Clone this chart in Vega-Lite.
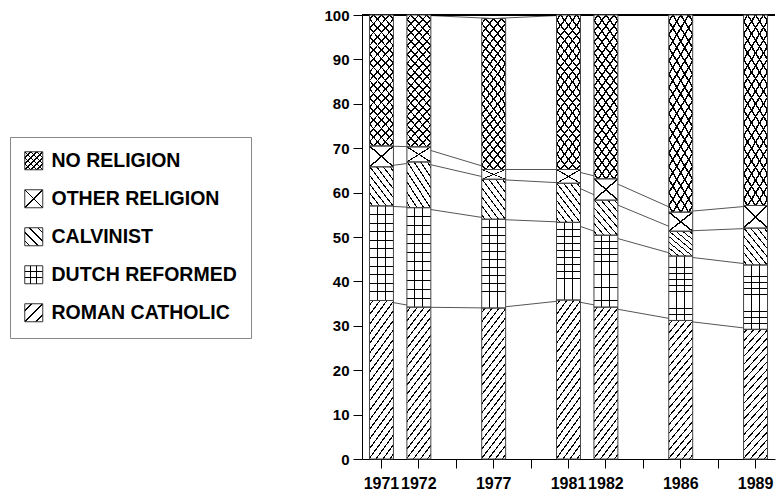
{
"$schema": "https://vega.github.io/schema/vega-lite/v6.json",
"width": 413,
"height": 444,
"autosize": {"type": "none"},
"padding": {"left": 362, "top": 15, "right": 1, "bottom": 37},
"background": "white",
"config": {
  "font": "Liberation Sans",
  "view": {"stroke": null},
  "axis": {"title": null, "grid": false, "domainColor": "#000", "tickColor": "#000", "labelColor": "#000", "labelFont": "Liberation Sans", "labelFontWeight": "bold", "tickSize": 9, "domainWidth": 1, "tickWidth": 1},
  "axisX": {"labelFontSize": 16, "labelPadding": 7, "labelAngle": 0, "labelOverlap": false},
  "axisY": {"labelFontSize": 15, "labelPadding": 4}
},
"data": {"values": [
  {"year": "1971", "cat": "ROMAN CATHOLIC", "k": 1, "v": 35.7},
  {"year": "1971", "cat": "DUTCH REFORMED", "k": 2, "v": 21.3},
  {"year": "1971", "cat": "CALVINIST", "k": 3, "v": 8.8},
  {"year": "1971", "cat": "OTHER RELIGION", "k": 4, "v": 4.7},
  {"year": "1971", "cat": "NO RELIGION", "k": 5, "v": 29.5},
  {"year": "1972", "cat": "ROMAN CATHOLIC", "k": 1, "v": 34.2},
  {"year": "1972", "cat": "DUTCH REFORMED", "k": 2, "v": 22.4},
  {"year": "1972", "cat": "CALVINIST", "k": 3, "v": 10.3},
  {"year": "1972", "cat": "OTHER RELIGION", "k": 4, "v": 3.4},
  {"year": "1972", "cat": "NO RELIGION", "k": 5, "v": 29.7},
  {"year": "1977", "cat": "ROMAN CATHOLIC", "k": 1, "v": 34.0},
  {"year": "1977", "cat": "DUTCH REFORMED", "k": 2, "v": 20.0},
  {"year": "1977", "cat": "CALVINIST", "k": 3, "v": 9.0},
  {"year": "1977", "cat": "OTHER RELIGION", "k": 4, "v": 2.2},
  {"year": "1977", "cat": "NO RELIGION", "k": 5, "v": 34.0},
  {"year": "1981", "cat": "ROMAN CATHOLIC", "k": 1, "v": 35.8},
  {"year": "1981", "cat": "DUTCH REFORMED", "k": 2, "v": 17.5},
  {"year": "1981", "cat": "CALVINIST", "k": 3, "v": 8.8},
  {"year": "1981", "cat": "OTHER RELIGION", "k": 4, "v": 3.1},
  {"year": "1981", "cat": "NO RELIGION", "k": 5, "v": 34.8},
  {"year": "1982", "cat": "ROMAN CATHOLIC", "k": 1, "v": 34.2},
  {"year": "1982", "cat": "DUTCH REFORMED", "k": 2, "v": 16.2},
  {"year": "1982", "cat": "CALVINIST", "k": 3, "v": 7.9},
  {"year": "1982", "cat": "OTHER RELIGION", "k": 4, "v": 4.8},
  {"year": "1982", "cat": "NO RELIGION", "k": 5, "v": 36.9},
  {"year": "1986", "cat": "ROMAN CATHOLIC", "k": 1, "v": 31.2},
  {"year": "1986", "cat": "DUTCH REFORMED", "k": 2, "v": 14.5},
  {"year": "1986", "cat": "CALVINIST", "k": 3, "v": 5.6},
  {"year": "1986", "cat": "OTHER RELIGION", "k": 4, "v": 4.3},
  {"year": "1986", "cat": "NO RELIGION", "k": 5, "v": 44.4},
  {"year": "1989", "cat": "ROMAN CATHOLIC", "k": 1, "v": 29.2},
  {"year": "1989", "cat": "DUTCH REFORMED", "k": 2, "v": 14.5},
  {"year": "1989", "cat": "CALVINIST", "k": 3, "v": 8.3},
  {"year": "1989", "cat": "OTHER RELIGION", "k": 4, "v": 5.1},
  {"year": "1989", "cat": "NO RELIGION", "k": 5, "v": 42.9}
]},
"transform": [{"stack": "v", "groupby": ["year"], "sort": [{"field": "k", "order": "ascending"}], "as": ["v0", "v1"]}],
"layer": [
  {
    "mark": {"type": "line", "color": "#555", "strokeWidth": 1},
    "encoding": {
      "x": {"field": "year", "type": "nominal", "scale": {"domain": ["1971", "1972", "a", "1977", "b", "1981", "1982", "c", "1986", "d", "1989"], "paddingInner": 0.36, "paddingOuter": 0.2}, "axis": {"labelExpr": "length(datum.label) == 4 ? datum.label : ''"}},
      "y": {"field": "v1", "type": "quantitative", "scale": {"domain": [0, 100], "nice": false}, "axis": {"values": [0, 10, 20, 30, 40, 50, 60, 70, 80, 90, 100]}},
      "detail": {"field": "cat"}
    }
  },
  {
    "mark": {"type": "rule", "color": "#000", "strokeWidth": 1},
    "encoding": {"y": {"datum": 100}}
  },
  {
    "mark": {"type": "bar"},
    "encoding": {
      "x": {"field": "year", "type": "nominal", "scale": {"domain": ["1971", "1972", "a", "1977", "b", "1981", "1982", "c", "1986", "d", "1989"], "paddingInner": 0.36, "paddingOuter": 0.2}, "axis": {"labelExpr": "length(datum.label) == 4 ? datum.label : ''"}},
      "y": {"field": "v0", "type": "quantitative", "scale": {"domain": [0, 100], "nice": false}},
      "y2": {"field": "v1"},
      "fill": {"field": "cat", "type": "nominal", "legend": null, "scale": {"domain": ["NO RELIGION", "OTHER RELIGION", "CALVINIST", "DUTCH REFORMED", "ROMAN CATHOLIC"], "range": [
        {"expr": "{gradient:'linear',x1:0,y1:0,x2:0.2324,y2:1.1546,stops:[{offset:0,color:'#fff'},{offset:0.0218,color:'#fff'},{offset:0.0218,color:'#000'},{offset:0.0338,color:'#000'},{offset:0.0338,color:'#fff'},{offset:0.0773,color:'#fff'},{offset:0.0773,color:'#000'},{offset:0.0893,color:'#000'},{offset:0.0893,color:'#fff'},{offset:0.1329,color:'#fff'},{offset:0.1329,color:'#000'},{offset:0.1449,color:'#000'},{offset:0.1449,color:'#fff'},{offset:0.1884,color:'#fff'},{offset:0.1884,color:'#000'},{offset:0.2004,color:'#000'},{offset:0.2004,color:'#fff'},{offset:0.244,color:'#fff'},{offset:0.244,color:'#000'},{offset:0.256,color:'#000'},{offset:0.256,color:'#fff'},{offset:0.2996,color:'#fff'},{offset:0.2996,color:'#000'},{offset:0.3116,color:'#000'},{offset:0.3116,color:'#fff'},{offset:0.3551,color:'#fff'},{offset:0.3551,color:'#000'},{offset:0.3671,color:'#000'},{offset:0.3671,color:'#fff'},{offset:0.4107,color:'#fff'},{offset:0.4107,color:'#000'},{offset:0.4227,color:'#000'},{offset:0.4227,color:'#fff'},{offset:0.4662,color:'#fff'},{offset:0.4662,color:'#000'},{offset:0.4782,color:'#000'},{offset:0.4782,color:'#fff'},{offset:0.5218,color:'#fff'},{offset:0.5218,color:'#000'},{offset:0.5338,color:'#000'},{offset:0.5338,color:'#fff'},{offset:0.5773,color:'#fff'},{offset:0.5773,color:'#000'},{offset:0.5893,color:'#000'},{offset:0.5893,color:'#fff'},{offset:0.6329,color:'#fff'},{offset:0.6329,color:'#000'},{offset:0.6449,color:'#000'},{offset:0.6449,color:'#fff'},{offset:0.6884,color:'#fff'},{offset:0.6884,color:'#000'},{offset:0.7004,color:'#000'},{offset:0.7004,color:'#fff'},{offset:0.744,color:'#fff'},{offset:0.744,color:'#000'},{offset:0.756,color:'#000'},{offset:0.756,color:'#fff'},{offset:0.7996,color:'#fff'},{offset:0.7996,color:'#000'},{offset:0.8116,color:'#000'},{offset:0.8116,color:'#fff'},{offset:0.8551,color:'#fff'},{offset:0.8551,color:'#000'},{offset:0.8671,color:'#000'},{offset:0.8671,color:'#fff'},{offset:0.9107,color:'#fff'},{offset:0.9107,color:'#000'},{offset:0.9227,color:'#000'},{offset:0.9227,color:'#fff'},{offset:0.9662,color:'#fff'},{offset:0.9662,color:'#000'},{offset:0.9782,color:'#000'},{offset:0.9782,color:'#fff'},{offset:1,color:'#fff'}]}"},
        {"expr": "{gradient:'linear',x1:0,y1:0,x2:1,y2:1,stops:[{offset:0,color:'#fff'},{offset:0.478,color:'#fff'},{offset:0.478,color:'#000'},{offset:0.522,color:'#000'},{offset:0.522,color:'#fff'},{offset:1,color:'#fff'}]}"},
        {"expr": "{gradient:'linear',x1:0,y1:1,x2:0.878,y2:-0.0976,stops:[{offset:0,color:'#fff'},{offset:0.0505,color:'#fff'},{offset:0.0505,color:'#000'},{offset:0.0745,color:'#000'},{offset:0.0745,color:'#fff'},{offset:0.1755,color:'#fff'},{offset:0.1755,color:'#000'},{offset:0.1995,color:'#000'},{offset:0.1995,color:'#fff'},{offset:0.3005,color:'#fff'},{offset:0.3005,color:'#000'},{offset:0.3245,color:'#000'},{offset:0.3245,color:'#fff'},{offset:0.4255,color:'#fff'},{offset:0.4255,color:'#000'},{offset:0.4495,color:'#000'},{offset:0.4495,color:'#fff'},{offset:0.5505,color:'#fff'},{offset:0.5505,color:'#000'},{offset:0.5745,color:'#000'},{offset:0.5745,color:'#fff'},{offset:0.6755,color:'#fff'},{offset:0.6755,color:'#000'},{offset:0.6995,color:'#000'},{offset:0.6995,color:'#fff'},{offset:0.8005,color:'#fff'},{offset:0.8005,color:'#000'},{offset:0.8245,color:'#000'},{offset:0.8245,color:'#fff'},{offset:0.9255,color:'#fff'},{offset:0.9255,color:'#000'},{offset:0.9495,color:'#000'},{offset:0.9495,color:'#fff'},{offset:1,color:'#fff'}]}"},
        {"expr": "{gradient:'linear',x1:0,y1:0,x2:0,y2:1,stops:[{offset:0,color:'#fff'},{offset:0.0859,color:'#fff'},{offset:0.0859,color:'#000'},{offset:0.0959,color:'#000'},{offset:0.0959,color:'#fff'},{offset:0.1768,color:'#fff'},{offset:0.1768,color:'#000'},{offset:0.1868,color:'#000'},{offset:0.1868,color:'#fff'},{offset:0.2677,color:'#fff'},{offset:0.2677,color:'#000'},{offset:0.2777,color:'#000'},{offset:0.2777,color:'#fff'},{offset:0.3586,color:'#fff'},{offset:0.3586,color:'#000'},{offset:0.3686,color:'#000'},{offset:0.3686,color:'#fff'},{offset:0.4495,color:'#fff'},{offset:0.4495,color:'#000'},{offset:0.4595,color:'#000'},{offset:0.4595,color:'#fff'},{offset:0.5405,color:'#fff'},{offset:0.5405,color:'#000'},{offset:0.5505,color:'#000'},{offset:0.5505,color:'#fff'},{offset:0.6314,color:'#fff'},{offset:0.6314,color:'#000'},{offset:0.6414,color:'#000'},{offset:0.6414,color:'#fff'},{offset:0.7223,color:'#fff'},{offset:0.7223,color:'#000'},{offset:0.7323,color:'#000'},{offset:0.7323,color:'#fff'},{offset:0.8132,color:'#fff'},{offset:0.8132,color:'#000'},{offset:0.8232,color:'#000'},{offset:0.8232,color:'#fff'},{offset:0.9041,color:'#fff'},{offset:0.9041,color:'#000'},{offset:0.9141,color:'#000'},{offset:0.9141,color:'#fff'},{offset:1,color:'#fff'}]}"},
        {"expr": "{gradient:'linear',x1:0,y1:0,x2:0.239,y2:1.157,stops:[{offset:0,color:'#fff'},{offset:0.02,color:'#fff'},{offset:0.02,color:'#000'},{offset:0.03,color:'#000'},{offset:0.03,color:'#fff'},{offset:0.07,color:'#fff'},{offset:0.07,color:'#000'},{offset:0.08,color:'#000'},{offset:0.08,color:'#fff'},{offset:0.12,color:'#fff'},{offset:0.12,color:'#000'},{offset:0.13,color:'#000'},{offset:0.13,color:'#fff'},{offset:0.17,color:'#fff'},{offset:0.17,color:'#000'},{offset:0.18,color:'#000'},{offset:0.18,color:'#fff'},{offset:0.22,color:'#fff'},{offset:0.22,color:'#000'},{offset:0.23,color:'#000'},{offset:0.23,color:'#fff'},{offset:0.27,color:'#fff'},{offset:0.27,color:'#000'},{offset:0.28,color:'#000'},{offset:0.28,color:'#fff'},{offset:0.32,color:'#fff'},{offset:0.32,color:'#000'},{offset:0.33,color:'#000'},{offset:0.33,color:'#fff'},{offset:0.37,color:'#fff'},{offset:0.37,color:'#000'},{offset:0.38,color:'#000'},{offset:0.38,color:'#fff'},{offset:0.42,color:'#fff'},{offset:0.42,color:'#000'},{offset:0.43,color:'#000'},{offset:0.43,color:'#fff'},{offset:0.47,color:'#fff'},{offset:0.47,color:'#000'},{offset:0.48,color:'#000'},{offset:0.48,color:'#fff'},{offset:0.52,color:'#fff'},{offset:0.52,color:'#000'},{offset:0.53,color:'#000'},{offset:0.53,color:'#fff'},{offset:0.57,color:'#fff'},{offset:0.57,color:'#000'},{offset:0.58,color:'#000'},{offset:0.58,color:'#fff'},{offset:0.62,color:'#fff'},{offset:0.62,color:'#000'},{offset:0.63,color:'#000'},{offset:0.63,color:'#fff'},{offset:0.67,color:'#fff'},{offset:0.67,color:'#000'},{offset:0.68,color:'#000'},{offset:0.68,color:'#fff'},{offset:0.72,color:'#fff'},{offset:0.72,color:'#000'},{offset:0.73,color:'#000'},{offset:0.73,color:'#fff'},{offset:0.77,color:'#fff'},{offset:0.77,color:'#000'},{offset:0.78,color:'#000'},{offset:0.78,color:'#fff'},{offset:0.82,color:'#fff'},{offset:0.82,color:'#000'},{offset:0.83,color:'#000'},{offset:0.83,color:'#fff'},{offset:0.87,color:'#fff'},{offset:0.87,color:'#000'},{offset:0.88,color:'#000'},{offset:0.88,color:'#fff'},{offset:0.92,color:'#fff'},{offset:0.92,color:'#000'},{offset:0.93,color:'#000'},{offset:0.93,color:'#fff'},{offset:0.97,color:'#fff'},{offset:0.97,color:'#000'},{offset:0.98,color:'#000'},{offset:0.98,color:'#fff'},{offset:1,color:'#fff'}]}"}
      ]}}
    }
  },
  {
    "mark": {"type": "bar"},
    "encoding": {
      "x": {"field": "year", "type": "nominal", "scale": {"domain": ["1971", "1972", "a", "1977", "b", "1981", "1982", "c", "1986", "d", "1989"], "paddingInner": 0.36, "paddingOuter": 0.2}, "axis": {"labelExpr": "length(datum.label) == 4 ? datum.label : ''"}},
      "y": {"field": "v0", "type": "quantitative", "scale": {"domain": [0, 100], "nice": false}},
      "y2": {"field": "v1"},
      "fill": {"field": "cat", "type": "nominal", "legend": null, "scale": {"domain": ["NO RELIGION", "OTHER RELIGION", "CALVINIST", "DUTCH REFORMED", "ROMAN CATHOLIC"], "range": [
        {"expr": "{gradient:'linear',x1:0,y1:1,x2:0.2324,y2:-0.1546,stops:[{offset:0,color:'transparent'},{offset:0.0218,color:'transparent'},{offset:0.0218,color:'#000'},{offset:0.0338,color:'#000'},{offset:0.0338,color:'transparent'},{offset:0.0773,color:'transparent'},{offset:0.0773,color:'#000'},{offset:0.0893,color:'#000'},{offset:0.0893,color:'transparent'},{offset:0.1329,color:'transparent'},{offset:0.1329,color:'#000'},{offset:0.1449,color:'#000'},{offset:0.1449,color:'transparent'},{offset:0.1884,color:'transparent'},{offset:0.1884,color:'#000'},{offset:0.2004,color:'#000'},{offset:0.2004,color:'transparent'},{offset:0.244,color:'transparent'},{offset:0.244,color:'#000'},{offset:0.256,color:'#000'},{offset:0.256,color:'transparent'},{offset:0.2996,color:'transparent'},{offset:0.2996,color:'#000'},{offset:0.3116,color:'#000'},{offset:0.3116,color:'transparent'},{offset:0.3551,color:'transparent'},{offset:0.3551,color:'#000'},{offset:0.3671,color:'#000'},{offset:0.3671,color:'transparent'},{offset:0.4107,color:'transparent'},{offset:0.4107,color:'#000'},{offset:0.4227,color:'#000'},{offset:0.4227,color:'transparent'},{offset:0.4662,color:'transparent'},{offset:0.4662,color:'#000'},{offset:0.4782,color:'#000'},{offset:0.4782,color:'transparent'},{offset:0.5218,color:'transparent'},{offset:0.5218,color:'#000'},{offset:0.5338,color:'#000'},{offset:0.5338,color:'transparent'},{offset:0.5773,color:'transparent'},{offset:0.5773,color:'#000'},{offset:0.5893,color:'#000'},{offset:0.5893,color:'transparent'},{offset:0.6329,color:'transparent'},{offset:0.6329,color:'#000'},{offset:0.6449,color:'#000'},{offset:0.6449,color:'transparent'},{offset:0.6884,color:'transparent'},{offset:0.6884,color:'#000'},{offset:0.7004,color:'#000'},{offset:0.7004,color:'transparent'},{offset:0.744,color:'transparent'},{offset:0.744,color:'#000'},{offset:0.756,color:'#000'},{offset:0.756,color:'transparent'},{offset:0.7996,color:'transparent'},{offset:0.7996,color:'#000'},{offset:0.8116,color:'#000'},{offset:0.8116,color:'transparent'},{offset:0.8551,color:'transparent'},{offset:0.8551,color:'#000'},{offset:0.8671,color:'#000'},{offset:0.8671,color:'transparent'},{offset:0.9107,color:'transparent'},{offset:0.9107,color:'#000'},{offset:0.9227,color:'#000'},{offset:0.9227,color:'transparent'},{offset:0.9662,color:'transparent'},{offset:0.9662,color:'#000'},{offset:0.9782,color:'#000'},{offset:0.9782,color:'transparent'},{offset:1,color:'transparent'}]}"},
        {"expr": "{gradient:'linear',x1:0,y1:1,x2:1,y2:0,stops:[{offset:0,color:'transparent'},{offset:0.478,color:'transparent'},{offset:0.478,color:'#000'},{offset:0.522,color:'#000'},{offset:0.522,color:'transparent'},{offset:1,color:'transparent'}]}"},
        "transparent",
        {"expr": "{gradient:'linear',x1:0,y1:0,x2:1,y2:0,stops:[{offset:0,color:'transparent'},{offset:0.312,color:'transparent'},{offset:0.312,color:'#000'},{offset:0.354,color:'#000'},{offset:0.354,color:'transparent'},{offset:0.646,color:'transparent'},{offset:0.646,color:'#000'},{offset:0.688,color:'#000'},{offset:0.688,color:'transparent'},{offset:1,color:'transparent'}]}"},
        "transparent"
      ]}}
    }
  },
  {
    "mark": {"type": "bar", "fillOpacity": 0, "stroke": "#444", "strokeWidth": 1},
    "encoding": {
      "x": {"field": "year", "type": "nominal", "scale": {"domain": ["1971", "1972", "a", "1977", "b", "1981", "1982", "c", "1986", "d", "1989"], "paddingInner": 0.36, "paddingOuter": 0.2}, "axis": {"labelExpr": "length(datum.label) == 4 ? datum.label : ''"}},
      "y": {"field": "v0", "type": "quantitative", "scale": {"domain": [0, 100], "nice": false}},
      "y2": {"field": "v1"},
      "detail": {"field": "cat"}
    }
  },
  {
    "transform": [{"filter": "false"}],
    "mark": {"type": "bar"},
    "encoding": {
      "x": {"field": "year", "type": "nominal", "scale": {"domain": ["1971", "1972", "a", "1977", "b", "1981", "1982", "c", "1986", "d", "1989"], "paddingInner": 0.36, "paddingOuter": 0.2}, "axis": {"labelExpr": "length(datum.label) == 4 ? datum.label : ''"}},
      "y": {"field": "v0", "type": "quantitative", "scale": {"domain": [0, 100], "nice": false}},
      "y2": {"field": "v1"},
      "fill": {"field": "cat", "type": "nominal",
        "legend": {"title": null, "orient": "none", "legendX": -352, "legendY": 122, "padding": 14, "strokeColor": "#888", "symbolType": "square", "symbolSize": 324, "symbolStrokeColor": "#333", "symbolStrokeWidth": 1, "labelFont": "Liberation Sans", "labelFontSize": 19.5, "labelFontWeight": "bold", "labelColor": "#000", "labelOffset": 8, "rowPadding": 15, "labelLimit": 400},
        "scale": {"domain": ["NO RELIGION", "OTHER RELIGION", "CALVINIST", "DUTCH REFORMED", "ROMAN CATHOLIC"], "range": [
        {"expr": "{gradient:'linear',x1:0,y1:0,x2:1,y2:1,stops:[{offset:0,color:'#fff'},{offset:0.145,color:'#fff'},{offset:0.145,color:'#000'},{offset:0.189,color:'#000'},{offset:0.189,color:'#fff'},{offset:0.311,color:'#fff'},{offset:0.311,color:'#000'},{offset:0.355,color:'#000'},{offset:0.355,color:'#fff'},{offset:0.478,color:'#fff'},{offset:0.478,color:'#000'},{offset:0.522,color:'#000'},{offset:0.522,color:'#fff'},{offset:0.645,color:'#fff'},{offset:0.645,color:'#000'},{offset:0.689,color:'#000'},{offset:0.689,color:'#fff'},{offset:0.811,color:'#fff'},{offset:0.811,color:'#000'},{offset:0.855,color:'#000'},{offset:0.855,color:'#fff'},{offset:1,color:'#fff'}]}"},
        {"expr": "{gradient:'linear',x1:0,y1:0,x2:1,y2:1,stops:[{offset:0,color:'#fff'},{offset:0.478,color:'#fff'},{offset:0.478,color:'#000'},{offset:0.522,color:'#000'},{offset:0.522,color:'#fff'},{offset:1,color:'#fff'}]}"},
        {"expr": "{gradient:'linear',x1:0,y1:1,x2:1,y2:0,stops:[{offset:0,color:'#fff'},{offset:0.118,color:'#fff'},{offset:0.118,color:'#000'},{offset:0.162,color:'#000'},{offset:0.162,color:'#fff'},{offset:0.358,color:'#fff'},{offset:0.358,color:'#000'},{offset:0.402,color:'#000'},{offset:0.402,color:'#fff'},{offset:0.598,color:'#fff'},{offset:0.598,color:'#000'},{offset:0.642,color:'#000'},{offset:0.642,color:'#fff'},{offset:0.838,color:'#fff'},{offset:0.838,color:'#000'},{offset:0.882,color:'#000'},{offset:0.882,color:'#fff'},{offset:1,color:'#fff'}]}"},
        {"expr": "{gradient:'linear',x1:0,y1:0,x2:0,y2:1,stops:[{offset:0,color:'#fff'},{offset:0.303,color:'#fff'},{offset:0.303,color:'#000'},{offset:0.363,color:'#000'},{offset:0.363,color:'#fff'},{offset:0.637,color:'#fff'},{offset:0.637,color:'#000'},{offset:0.697,color:'#000'},{offset:0.697,color:'#fff'},{offset:1,color:'#fff'}]}"},
        {"expr": "{gradient:'linear',x1:0,y1:0,x2:1,y2:1,stops:[{offset:0,color:'#fff'},{offset:0.178,color:'#fff'},{offset:0.178,color:'#000'},{offset:0.222,color:'#000'},{offset:0.222,color:'#fff'},{offset:0.478,color:'#fff'},{offset:0.478,color:'#000'},{offset:0.522,color:'#000'},{offset:0.522,color:'#fff'},{offset:0.778,color:'#fff'},{offset:0.778,color:'#000'},{offset:0.822,color:'#000'},{offset:0.822,color:'#fff'},{offset:1,color:'#fff'}]}"}
      ]}}
    }
  },
  {
    "transform": [{"filter": "false"}],
    "mark": {"type": "bar"},
    "encoding": {
      "x": {"field": "year", "type": "nominal", "scale": {"domain": ["1971", "1972", "a", "1977", "b", "1981", "1982", "c", "1986", "d", "1989"], "paddingInner": 0.36, "paddingOuter": 0.2}, "axis": {"labelExpr": "length(datum.label) == 4 ? datum.label : ''"}},
      "y": {"field": "v0", "type": "quantitative", "scale": {"domain": [0, 100], "nice": false}},
      "y2": {"field": "v1"},
      "fill": {"field": "cat", "type": "nominal",
        "legend": {"title": null, "orient": "none", "legendX": -352, "legendY": 122, "padding": 14, "symbolType": "square", "symbolSize": 324, "symbolStrokeColor": "transparent", "symbolStrokeWidth": 1, "labelFont": "Liberation Sans", "labelFontSize": 19.5, "labelFontWeight": "bold", "labelColor": "transparent", "labelOffset": 8, "rowPadding": 15, "labelLimit": 400},
        "scale": {"domain": ["NO RELIGION", "OTHER RELIGION", "CALVINIST", "DUTCH REFORMED", "ROMAN CATHOLIC"], "range": [
        {"expr": "{gradient:'linear',x1:0,y1:1,x2:1,y2:0,stops:[{offset:0,color:'transparent'},{offset:0.145,color:'transparent'},{offset:0.145,color:'#000'},{offset:0.189,color:'#000'},{offset:0.189,color:'transparent'},{offset:0.311,color:'transparent'},{offset:0.311,color:'#000'},{offset:0.355,color:'#000'},{offset:0.355,color:'transparent'},{offset:0.478,color:'transparent'},{offset:0.478,color:'#000'},{offset:0.522,color:'#000'},{offset:0.522,color:'transparent'},{offset:0.645,color:'transparent'},{offset:0.645,color:'#000'},{offset:0.689,color:'#000'},{offset:0.689,color:'transparent'},{offset:0.811,color:'transparent'},{offset:0.811,color:'#000'},{offset:0.855,color:'#000'},{offset:0.855,color:'transparent'},{offset:1,color:'transparent'}]}"},
        {"expr": "{gradient:'linear',x1:0,y1:1,x2:1,y2:0,stops:[{offset:0,color:'transparent'},{offset:0.478,color:'transparent'},{offset:0.478,color:'#000'},{offset:0.522,color:'#000'},{offset:0.522,color:'transparent'},{offset:1,color:'transparent'}]}"},
        "transparent",
        {"expr": "{gradient:'linear',x1:0,y1:0,x2:1,y2:0,stops:[{offset:0,color:'transparent'},{offset:0.303,color:'transparent'},{offset:0.303,color:'#000'},{offset:0.363,color:'#000'},{offset:0.363,color:'transparent'},{offset:0.637,color:'transparent'},{offset:0.637,color:'#000'},{offset:0.697,color:'#000'},{offset:0.697,color:'transparent'},{offset:1,color:'transparent'}]}"},
        "transparent"
      ]}}
    }
  }
],
"resolve": {"scale": {"fill": "independent"}}
}
